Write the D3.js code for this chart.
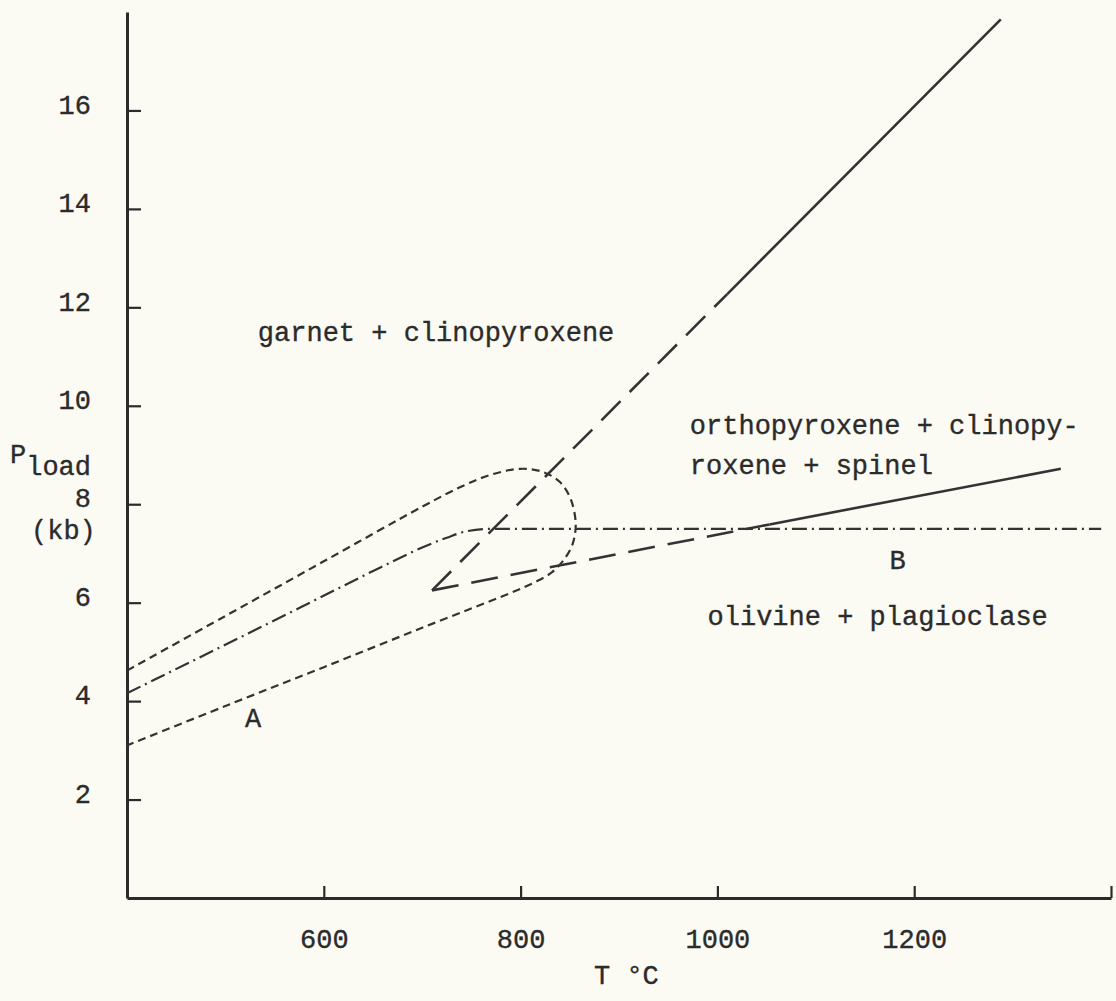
<!DOCTYPE html>
<html>
<head>
<meta charset="utf-8">
<script src="https://cdn.jsdelivr.net/npm/d3@7"></script>
<style>
  html, body { margin: 0; padding: 0; background: #fbfaf3; }
  svg { display: block; }
  text { font-family: "Liberation Mono", "DejaVu Sans Mono", monospace; fill: #2b2b2b; stroke: #2b2b2b; stroke-width: 0.35px; }
</style>
</head>
<body>
<div id="chart"></div>
<script>
const width = 1116;
const height = 1001;

// axis ticks (T in degC, P in kb)
const tempTicks = [600, 800, 1000, 1200, 1400];
const pressTicks = [2, 4, 6, 8, 10, 12, 14, 16];

// short dashed loop (upper branch, nose, lower branch)
const loopPoints = [
    [400, 4.62], [500, 5.73], [600, 6.84], [700, 7.95], [740, 8.36], [770, 8.6],
    [800, 8.72], [822, 8.66], [840, 8.45], [851, 8.1], [856, 7.6], [853, 7.2],
    [845, 6.9], [832, 6.62], [815, 6.42], [790, 6.2], [700, 5.49], [600, 4.69],
    [500, 3.9], [400, 3.1]
];

// dash-dot line
const dashDotPoints = [
    [400, 4.16], [576, 5.9], [657, 6.71], [700, 7.12], [725, 7.32], [745, 7.45],
    [770, 7.5], [1390, 7.5]
];

// long dashed wedge and its solid continuations
const upperDashed = [[710, 6.25], [1010, 12.27]];
const upperSolid = [[1010, 12.27], [1288, 17.85]];
const lowerDashed = [[710, 6.25], [1053, 7.59]];
const lowerSolid = [[1053, 7.59], [1349, 8.72]];

// field labels, anchored in T / P units
const fieldNames = ["garnet + clinopyroxene", "orthopyroxene + clinopy-", "roxene + spinel", "olivine + plagioclase", "A", "B"];
const fieldTemps = [533, 972, 972, 990, 520, 1175];
const fieldPress = [11.32, 9.43, 8.62, 5.54, 3.47, 6.69];

drawChart();

function drawChart() {
    const svg = d3.select("#chart")
        .append("svg")
        .attr("width", width)
        .attr("height", height);

    const scaleX = d3.scaleLinear().domain([400, 1400]).range([127, 1111]);
    const scaleY = d3.scaleLinear().domain([0, 18]).range([898, 12]);

    const line = d3.line()
        .x(d => scaleX(d[0]))
        .y(d => scaleY(d[1]));

    //Axes - ticks point inwards like the typed original
    const axisX = d3.axisBottom(scaleX)
        .tickValues(tempTicks)
        .tickSizeInner(-12)
        .tickSizeOuter(0)
        .tickPadding(31)
        .tickFormat(d => d === 1400 ? "" : d);

    const axisY = d3.axisLeft(scaleY)
        .tickValues(pressTicks)
        .tickSizeInner(-14)
        .tickSizeOuter(0)
        .tickPadding(36);

    const gX = svg.append("g")
        .attr("transform", `translate(0, ${scaleY(0)})`)
        .call(axisX);
    const gY = svg.append("g")
        .attr("transform", `translate(${scaleX(400)}, 0)`)
        .call(axisY);

    [gX, gY].forEach(g => {
        g.select(".domain").attr("stroke", "#2b2b2b").attr("stroke-width", 3);
        g.selectAll(".tick line").attr("stroke", "#2b2b2b").attr("stroke-width", 2.2);
        g.selectAll(".tick text")
            .style("font-family", '"Liberation Mono", monospace')
            .style("font-size", "27px")
            .attr("fill", "#2b2b2b");
    });
    gY.selectAll(".tick text").attr("dy", "0.1em");

    //Axis titles
    svg.append("text")
        .attr("x", 594)
        .attr("y", 984)
        .style("font-size", "27px")
        .text("T \u00B0C");

    const pLabel = svg.append("text")
        .attr("x", 10)
        .attr("y", 463)
        .style("font-size", "27px");
    pLabel.append("tspan").text("P");
    pLabel.append("tspan").attr("dy", 12).text("load");

    svg.append("text")
        .attr("x", 31)
        .attr("y", 539)
        .style("font-size", "27px")
        .text("(kb)");

    //Phase boundaries
    svg.append("path")
        .attr("d", line.curve(d3.curveCatmullRom.alpha(0.5))(loopPoints))
        .attr("fill", "none")
        .attr("stroke", "#333")
        .attr("stroke-width", 2.2)
        .attr("stroke-dasharray", "8,5");

    svg.append("path")
        .attr("d", line.curve(d3.curveMonotoneX)(dashDotPoints))
        .attr("fill", "none")
        .attr("stroke", "#333")
        .attr("stroke-width", 2.2)
        .attr("stroke-dasharray", "15,5,2,5");

    line.curve(d3.curveLinear);

    [upperDashed, lowerDashed].forEach(pts => {
        svg.append("path")
            .attr("d", line(pts))
            .attr("fill", "none")
            .attr("stroke", "#333")
            .attr("stroke-width", 2.6)
            .attr("stroke-dasharray", "27,13");
    });

    [upperSolid, lowerSolid].forEach(pts => {
        svg.append("path")
            .attr("d", line(pts))
            .attr("fill", "none")
            .attr("stroke", "#333")
            .attr("stroke-width", 2.6);
    });

    //Field labels
    svg.append("g")
        .selectAll("text")
        .data(fieldNames)
        .enter()
        .append("text")
        .attr("x", (d, i) => scaleX(fieldTemps[i]))
        .attr("y", (d, i) => scaleY(fieldPress[i]))
        .style("font-size", "27px")
        .text(d => d);
}
</script>
</body>
</html>
